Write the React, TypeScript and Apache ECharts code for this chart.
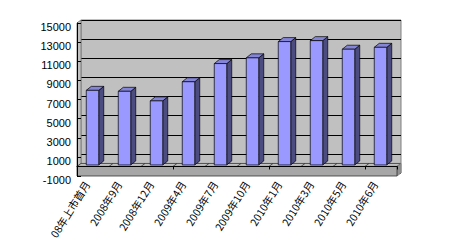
import React, { useEffect, useRef } from "react";
import * as echarts from "echarts";

const categories = [
  "08年上市首月",
  "2008年9月",
  "2008年12月",
  "2009年4月",
  "2009年7月",
  "2009年10月",
  "2010年1月",
  "2010年3月",
  "2010年5月",
  "2010年6月",
];
const values = [7800, 7700, 6700, 8700, 10600, 11200, 12900, 13000, 12100, 12300];
const yMin = -1000;
const yMax = 15000;
const yInterval = 2000;

const DX = 4;
const DY = 3;

export default function App() {
  const ref = useRef<HTMLDivElement>(null);
  useEffect(() => {
    if (!ref.current) return;
    const chart = echarts.init(ref.current, null, { renderer: "svg" });
    const W = 320;
    const H = 153;
    const yBase = { type: "value", min: yMin, max: yMax, interval: yInterval };
    const hiddenX = (gi: number) => ({ type: "category", data: categories, gridIndex: gi, show: false, boundaryGap: true });
    const hiddenY = (gi: number) => ({ ...yBase, gridIndex: gi, show: false });

    const option: any = {
      animation: false,
      backgroundColor: "#ffffff",
      grid: [
        { left: 81, top: 20, width: W, height: H, show: true, backgroundColor: "#c0c0c0", borderColor: "#808080", borderWidth: 1 },
        { left: 79, top: 21.5, width: W, height: H },
        { left: 77, top: 23, width: W, height: H },
        { left: 77, top: 27, width: W, height: H },
        { left: 71, top: 23, width: W, height: H },
      ],
      xAxis: [
        hiddenX(0),
        hiddenX(1),
        {
          type: "category",
          data: categories,
          gridIndex: 2,
          boundaryGap: true,
          z: 10,
          axisLine: { show: true, lineStyle: { color: "#000", width: 1 } },
          axisTick: { show: true, length: 3, lineStyle: { color: "#000" } },
          axisLabel: { show: false },
          splitLine: { show: false },
        },
        hiddenX(3),
        {
          type: "category",
          data: categories,
          gridIndex: 4,
          boundaryGap: true,
          axisLine: { show: false },
          axisTick: { show: false },
          splitLine: { show: false },
          axisLabel: {
            show: true,
            interval: 0,
            rotate: 58,
            margin: 6,
            color: "#000",
            fontSize: 10.5,
            fontFamily: "Noto Sans CJK SC",
          },
        },
      ],
      yAxis: [
        {
          ...yBase,
          gridIndex: 0,
          axisLine: { show: false },
          axisTick: { show: false },
          axisLabel: { show: false },
          splitLine: { show: true, lineStyle: { color: "#000", width: 1 } },
        },
        hiddenY(1),
        {
          ...yBase,
          gridIndex: 2,
          z: 10,
          axisLine: { show: true, lineStyle: { color: "#000", width: 1 } },
          axisTick: { show: true, inside: true, length: 4, lineStyle: { color: "#000" } },
          axisLabel: { show: false },
          splitLine: { show: false },
        },
        {
          ...yBase,
          gridIndex: 3,
          axisLine: { show: false },
          axisTick: { show: false },
          splitLine: { show: false },
          axisLabel: {
            show: true,
            margin: 6,
            color: "#000",
            fontSize: 11,
            fontFamily: "Liberation Sans",
            formatter: (v: number) => String(v),
          },
        },
        hiddenY(4),
      ],
      series: [
        {
          type: "custom",
          name: "floor",
          xAxisIndex: 2,
          yAxisIndex: 2,
          z: 2,
          silent: true,
          data: [[0, 0]],
          renderItem: (params: any, api: any) => {
            const cs = params.coordSys;
            const x0 = cs.x;
            const x1 = cs.x + cs.width;
            const y0 = api.coord([0, 0])[1];
            const yb = cs.y + cs.height;
            const children: any[] = [
              {
                type: "polygon",
                shape: { points: [[x0, cs.y], [x0 + DX, cs.y - DY], [x0 + DX, y0 - DY], [x0, y0]] },
                style: { fill: "#c0c0c0", stroke: "#808080", lineWidth: 1 },
              },
              {
                type: "polygon",
                shape: { points: [[x0, y0], [x0 + DX, y0 - DY], [x1 + DX, y0 - DY], [x1, y0]] },
                style: { fill: "#c0c0c0", stroke: "#333", lineWidth: 0.8 },
              },
              {
                type: "polygon",
                shape: { points: [[x1, y0], [x1 + DX, y0 - DY], [x1 + DX, yb - DY], [x1, yb]] },
                style: { fill: "#909090", stroke: "#808080", lineWidth: 0.8 },
              },
              {
                type: "rect",
                shape: { x: x0, y: y0, width: cs.width, height: yb - y0 },
                style: { fill: "#a6a6a6", stroke: "#333", lineWidth: 0.8 },
              },
            ];
            const bw = cs.width / categories.length;
            for (let i = 1; i < categories.length; i++) {
              const x = x0 + i * bw;
              children.push({
                type: "line",
                shape: { x1: x, y1: y0, x2: x + DX, y2: y0 - DY },
                style: { stroke: "#333", lineWidth: 0.8 },
              });
            }
            return { type: "group", children };
          },
        },
        {
          type: "custom",
          name: "bars",
          xAxisIndex: 1,
          yAxisIndex: 1,
          z: 4,
          data: values.map((v, i) => [i, v]),
          renderItem: (params: any, api: any) => {
            const idx = api.value(0);
            const val = api.value(1);
            const top = api.coord([idx, val]);
            const base = api.coord([idx, 0]);
            const bw = api.size([1, 0])[0];
            const fw = bw * 0.39;
            const dx = 5;
            const dy = 4;
            const left = top[0] - (fw + dx) / 2;
            const ty = top[1];
            const by = base[1];
            return {
              type: "group",
              children: [
                {
                  type: "polygon",
                  shape: { points: [[left + fw, ty], [left + fw + dx, ty - dy], [left + fw + dx, by - dy], [left + fw, by]] },
                  style: { fill: "#4c4c80", stroke: "#000", lineWidth: 0.7 },
                },
                {
                  type: "polygon",
                  shape: { points: [[left, ty], [left + dx, ty - dy], [left + fw + dx, ty - dy], [left + fw, ty]] },
                  style: { fill: "#8585d8", stroke: "#000", lineWidth: 0.7 },
                },
                {
                  type: "rect",
                  shape: { x: left, y: ty, width: fw, height: by - ty },
                  style: { fill: "#9999ff", stroke: "#000", lineWidth: 0.7 },
                },
              ],
            };
          },
        },
      ],
    };
    chart.setOption(option);
    return () => chart.dispose();
  }, []);
  return <div ref={ref} style={{ position: "fixed", left: 0, top: 0, width: 452, height: 251 }} />;
}
